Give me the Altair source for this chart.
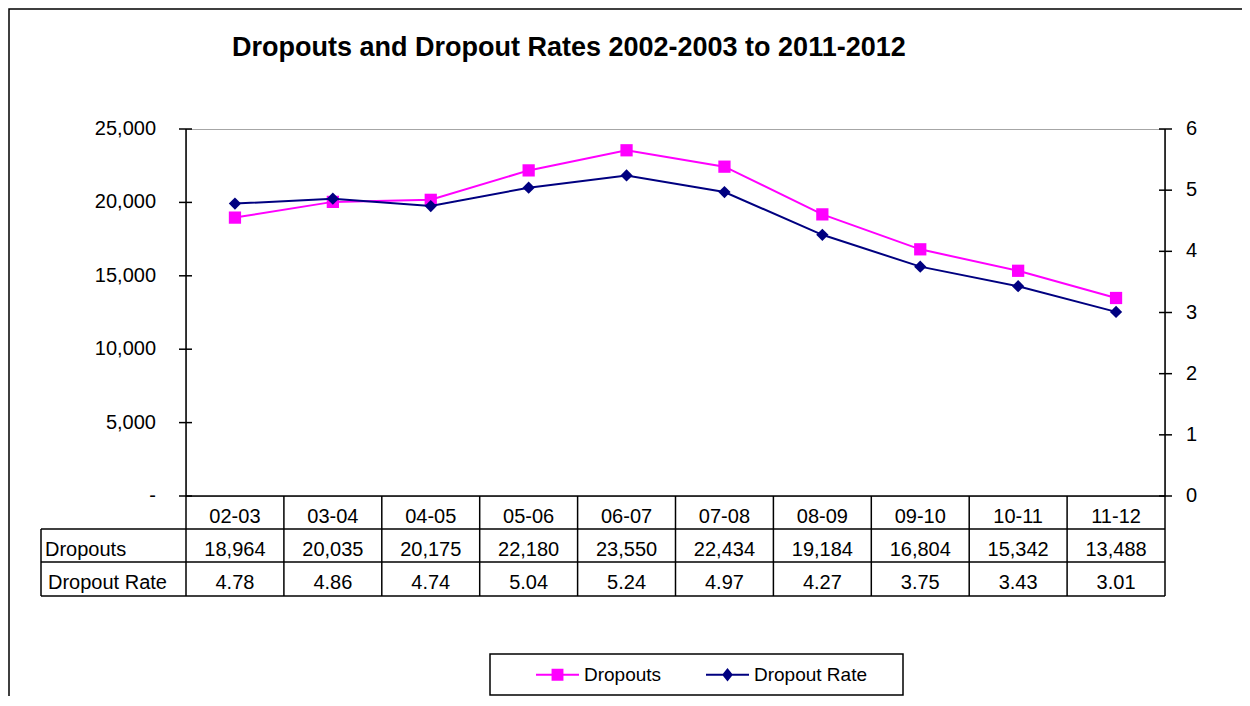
import altair as alt
import pandas as pd

# ---------------- data ----------------
categories = ["02-03", "03-04", "04-05", "05-06", "06-07", "07-08", "08-09", "09-10", "10-11", "11-12"]
dropouts = [18964, 20035, 20175, 22180, 23550, 22434, 19184, 16804, 15342, 13488]
dropout_rate = [4.78, 4.86, 4.74, 5.04, 5.24, 4.97, 4.27, 3.75, 3.43, 3.01]
series_names = ["Dropouts", "Dropout Rate"]
left_ticks = [0, 5000, 10000, 15000, 20000, 25000]
right_ticks = [0, 1, 2, 3, 4, 5, 6]
title_text = "Dropouts and Dropout Rates 2002-2003 to 2011-2012"

# ---------------- style ----------------
MAGENTA = "#FF00FF"
NAVY = "#000080"
FONT = "Liberation Sans"
W, H = 979, 367
LW = 1.5

df = pd.DataFrame({"cat": categories, "dropouts": dropouts, "rate": dropout_rate})
one = pd.DataFrame({"k": [0]})

x_scale = alt.Scale(type="band", domain=categories, paddingInner=0, paddingOuter=0)
Xc = alt.X("cat:N", scale=x_scale, bandPosition=0.5, axis=None)
Xe = alt.X("cat:N", scale=x_scale, bandPosition=0, axis=None)

yl_scale = alt.Scale(domain=[0, 25000], nice=False, zero=True)
yr_scale = alt.Scale(domain=[0, 6], nice=False, zero=True)

base = alt.Chart(df)


def vrule(x, y1, y2):
    return alt.Chart(one).mark_rule(color="black", strokeWidth=LW).encode(
        x=alt.value(x), y=alt.value(y1), y2=alt.value(y2))


def hrule(y, x1, x2):
    return alt.Chart(one).mark_rule(color="black", strokeWidth=LW).encode(
        y=alt.value(y), x=alt.value(x1), x2=alt.value(x2))


# ---------------- left (Dropouts) ----------------
drop_line = base.mark_line(color=MAGENTA, strokeWidth=2).encode(
    x=Xc, y=alt.Y("dropouts:Q", scale=yl_scale, axis=None))
drop_pts = base.mark_point(shape="square", filled=True, size=150, color=MAGENTA, opacity=1).encode(
    x=Xc, y=alt.Y("dropouts:Q", scale=yl_scale, axis=None))

lt = alt.Chart(pd.DataFrame({"v": left_ticks}))
left_tick_marks = lt.mark_rule(color="black", strokeWidth=LW).encode(
    y=alt.Y("v:Q", scale=yl_scale, axis=None), x=alt.value(-7), x2=alt.value(6))
left_tick_labels = lt.transform_calculate(
    lab="datum.v == 0 ? '-\u00a0\u00a0' : format(datum.v, ',')"
).mark_text(font=FONT, fontSize=20, color="black", align="right", baseline="middle").encode(
    y=alt.Y("v:Q", scale=yl_scale, axis=None), x=alt.value(-30), text="lab:N")

# legend layer (invisible marks, visible legend)
path_sq = "M-1,0H1M-0.23,-0.23H0.23V0.23H-0.23Z"
path_di = "M-1,0H1M0,-0.24L0.19,0L0,0.24L-0.19,0Z"
leg = alt.Legend(orient="none", legendX=349, legendY=523, direction="horizontal", title=None,
                 labelFontSize=19, labelFont=FONT, labelColor="black", symbolSize=1849,
                 symbolStrokeWidth=2, symbolOpacity=1, columnPadding=40, labelOffset=4,
                 padding=0)
legend_df = pd.DataFrame({"series": series_names, "v": [0, 0], "cat": [categories[0]] * 2})
legend_layer = alt.Chart(legend_df).mark_point(filled=True, opacity=0).encode(
    x=Xc, y=alt.Y("v:Q", scale=yl_scale, axis=None),
    fill=alt.Fill("series:N", scale=alt.Scale(domain=series_names, range=[MAGENTA, NAVY]), legend=leg),
    stroke=alt.Stroke("series:N", scale=alt.Scale(domain=series_names, range=[MAGENTA, NAVY]), legend=leg),
    shape=alt.Shape("series:N", scale=alt.Scale(domain=series_names, range=[path_sq, path_di]), legend=leg),
)
legend_box = alt.Chart(one).mark_rect(fill="transparent", stroke="black", strokeWidth=LW).encode(
    x=alt.value(304), x2=alt.value(717), y=alt.value(525), y2=alt.value(566))

# frame and title
frame = alt.Chart(one).mark_rect(fill="transparent", stroke="black", strokeWidth=LW).encode(
    x=alt.value(-177), x2=alt.value(1300), y=alt.value(-120), y2=alt.value(800))
title = alt.Chart(pd.DataFrame({"t": [title_text]})).mark_text(
    font=FONT, fontSize=27, fontWeight="bold", align="left", baseline="alphabetic", color="black"
).encode(x=alt.value(46), y=alt.value(-73), text="t:N")

# ---------------- data table ----------------
txt = dict(font=FONT, fontSize=20, color="black", baseline="alphabetic")
head_row = base.mark_text(align="center", **txt).encode(x=Xc, y=alt.value(394), text="cat:N")
drop_row = base.mark_text(align="center", **txt).encode(
    x=Xc, y=alt.value(427), text=alt.Text("dropouts:Q", format=","))
rate_row = base.mark_text(align="center", **txt).encode(
    x=Xc, y=alt.value(460), text=alt.Text("rate:Q", format=".2f"))
lab1 = alt.Chart(pd.DataFrame({"l": [series_names[0]]})).mark_text(align="left", **txt).encode(
    x=alt.value(-141), y=alt.value(427), text="l:N")
lab2 = alt.Chart(pd.DataFrame({"l": [series_names[1]]})).mark_text(align="left", **txt).encode(
    x=alt.value(-138), y=alt.value(460), text="l:N")

vlines = base.mark_rule(color="black", strokeWidth=LW).encode(x=Xe, y=alt.value(H), y2=alt.value(467))

left = alt.layer(frame, title, legend_box, vlines,
                 vrule(W, H, 467), vrule(-145, 400, 467),
                 hrule(400, -145, W), hrule(433, -145, W), hrule(467, -145, W),
                 head_row, drop_row, rate_row, lab1, lab2,
                 vrule(0, 0, H), vrule(W, 0, H), hrule(H, 0, W),
                 drop_line, drop_pts, left_tick_marks, left_tick_labels, legend_layer)

# ---------------- right (Dropout Rate) ----------------
rate_line = base.mark_line(color=NAVY, strokeWidth=2).encode(
    x=Xc, y=alt.Y("rate:Q", scale=yr_scale, axis=None))
rate_pts = base.mark_point(shape="diamond", filled=True, size=150, color=NAVY, opacity=1).encode(
    x=Xc, y=alt.Y("rate:Q", scale=yr_scale, axis=None))
rt = alt.Chart(pd.DataFrame({"v": right_ticks}))
right_tick_marks = rt.mark_rule(color="black", strokeWidth=LW).encode(
    y=alt.Y("v:Q", scale=yr_scale, axis=None), x=alt.value(W - 6), x2=alt.value(W + 7))
right_tick_labels = rt.mark_text(font=FONT, fontSize=20, color="black", align="left",
                                 baseline="middle").encode(
    y=alt.Y("v:Q", scale=yr_scale, axis=None), x=alt.value(W + 21), text=alt.Text("v:Q", format="d"))

right = alt.layer(rate_line, rate_pts, right_tick_marks, right_tick_labels)

chart = alt.layer(left, right).resolve_scale(y="independent").properties(
    width=W, height=H,
    padding={"left": 178, "top": 121, "right": 77, "bottom": 200},
    autosize=alt.AutoSizeParams(type="none"),
    background="white",
).configure_view(stroke="#a6a6a6", strokeWidth=1)

chart.save("out.html", embed_options={"renderer": "svg", "actions": False})
